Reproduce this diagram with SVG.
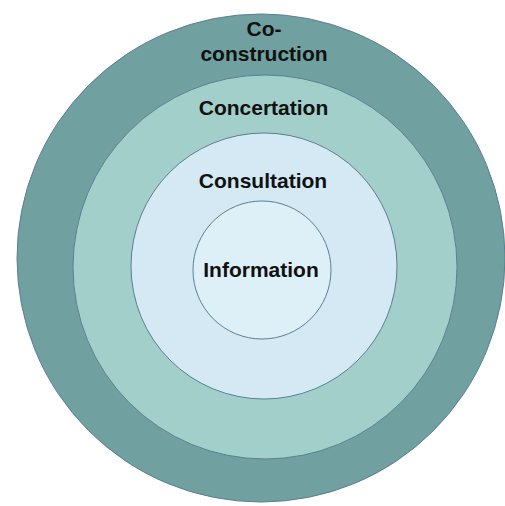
<svg xmlns="http://www.w3.org/2000/svg" width="505" height="506" viewBox="0 0 505 506">
<style>
.ring{stroke:#5b7f93;stroke-width:1}
.lbl{font-family:"Liberation Sans",Arial,sans-serif;font-weight:bold;font-size:21px;fill:#111;text-anchor:middle}
</style>
<rect width="505" height="506" fill="#ffffff"/>
<g id="co-construction">
<circle class="ring" cx="261" cy="258" r="244" fill="#70a09f"/>
<text class="lbl" x="264" y="36">Co-</text>
<text class="lbl" x="264" y="61">construction</text>
</g>
<g id="concertation">
<circle class="ring" cx="265" cy="267" r="192" fill="#a2cfca"/>
<text class="lbl" x="263.5" y="115">Concertation</text>
</g>
<g id="consultation">
<circle class="ring" cx="264" cy="266" r="133" fill="#d4e9f4"/>
<text class="lbl" x="263" y="188">Consultation</text>
</g>
<g id="information">
<circle class="ring" cx="262" cy="270" r="69" fill="#ddf0f8"/>
<text class="lbl" x="261" y="277">Information</text>
</g>
<g id="connectors"></g>
</svg>
